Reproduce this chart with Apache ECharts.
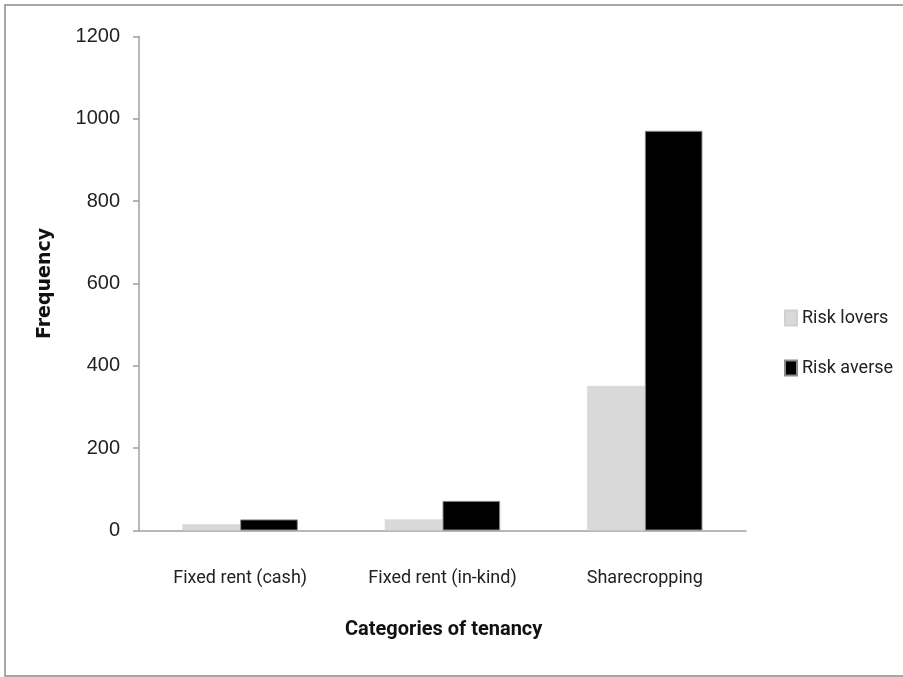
<!DOCTYPE html>
<html>
<head>
<meta charset="utf-8">
<script src="https://cdn.jsdelivr.net/npm/echarts@6/dist/echarts.min.js"></script>
<style>
  html, body { margin: 0; padding: 0; background: #fff; }
  #main { width: 903px; height: 677px; }
</style>
</head>
<body>
<div id="main"></div>
<script>
const categories = ['Fixed rent (cash)', 'Fixed rent (in-kind)', 'Sharecropping'];
const riskLovers = [15, 27, 351];
const riskAverse = [27, 72, 971];
const yTicks = [0, 200, 400, 600, 800, 1000, 1200];

const textFont = 'Roboto, "Open Sans", sans-serif';
const axisGray = '#a0a0a0';

const chart = echarts.init(document.getElementById('main'), null, { renderer: 'canvas' });

const option = {
  backgroundColor: '#fff',
  animation: false,
  grid: { left: 139, right: 157, top: 36.5, bottom: 146.5 },
  legend: {
    orient: 'vertical',
    left: 779,
    top: 304,
    itemWidth: 12,
    itemHeight: 15,
    itemGap: 32,
    icon: 'rect',
    textStyle: { fontFamily: textFont, fontSize: 18, color: '#222', lineHeight: 15 },
    data: ['Risk lovers', 'Risk averse']
  },
  xAxis: {
    type: 'category',
    data: categories,
    axisLine: { lineStyle: { color: axisGray, width: 1.5 } },
    axisTick: { show: false },
    axisLabel: { interval: 0, fontFamily: textFont, fontSize: 18, color: '#222', margin: 39 }
  },
  yAxis: {
    type: 'value',
    min: yTicks[0],
    max: yTicks[yTicks.length - 1],
    interval: 200,
    name: 'Frequency',
    nameLocation: 'middle',
    nameGap: 84,
    nameTextStyle: { fontFamily: '"DejaVu Sans", sans-serif', fontWeight: 'bold', fontSize: 19, color: '#111' },
    axisLine: { show: true, lineStyle: { color: axisGray, width: 1.5 } },
    axisTick: { show: true, length: 6, lineStyle: { color: axisGray, width: 1.5 } },
    splitLine: { show: false },
    axisLabel: {
      fontFamily: '"Liberation Sans", Arial, sans-serif',
      fontSize: 20,
      color: '#222',
      margin: 19,
      formatter: function (v) { return String(v); }
    }
  },
  graphic: [
    {
      type: 'rect',
      shape: { x: 5, y: 5, width: 920, height: 671 },
      style: { fill: 'none', stroke: '#8a8a8a', lineWidth: 1.5 },
      silent: true
    },
    {
      type: 'text',
      left: 345,
      top: 620,
      style: { text: 'Categories of tenancy', font: 'bold 20px ' + textFont, fill: '#111' }
    }
  ],
  series: [
    {
      name: 'Risk lovers',
      type: 'bar',
      data: riskLovers,
      barGap: '0%',
      barCategoryGap: '43%',
      itemStyle: { color: '#d9d9d9', borderColor: '#d0d0d0', borderWidth: 0.5 }
    },
    {
      name: 'Risk averse',
      type: 'bar',
      data: riskAverse,
      itemStyle: { color: '#000', borderColor: '#8c8c8c', borderWidth: 1 }
    }
  ]
};

chart.setOption(option);
</script>
</body>
</html>
